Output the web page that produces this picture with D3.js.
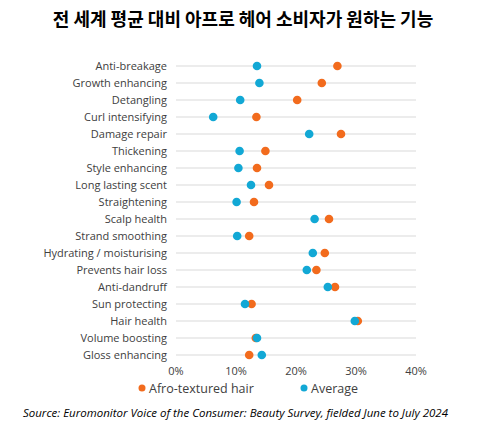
<!DOCTYPE html>
<html><head><meta charset="utf-8">
<script src="https://cdn.jsdelivr.net/npm/d3@7"></script>
<style>body{margin:0;background:#fff;font-family:"Open Sans",sans-serif;}</style>
</head><body><svg id="chart" width="486" height="427"></svg>
<script>
var categories = ["Anti-breakage","Growth enhancing","Detangling","Curl intensifying","Damage repair","Thickening","Style enhancing","Long lasting scent","Straightening","Scalp health","Strand smoothing","Hydrating / moisturising","Prevents hair loss","Anti-dandruff","Sun protecting","Hair health","Volume boosting","Gloss enhancing"];
var afroValues = [26.9,24.3,20.2,13.4,27.5,14.9,13.5,15.5,13.0,25.5,12.2,24.8,23.4,26.5,12.6,30.3,13.3,12.2];
var averageValues = [13.5,13.9,10.7,6.2,22.2,10.6,10.4,12.5,10.1,23.1,10.2,22.8,21.8,25.3,11.5,29.8,13.5,14.3];
var tickValues = [0,10,20,30,40];

var svg = d3.select("#chart");
var x = d3.scaleLinear().domain([0,40]).range([176,416]);
var y = d3.scalePoint().domain(categories).range([66,355]);

svg.append("text").attr("x",243).attr("y",26).attr("text-anchor","middle")
  .attr("font-size",18).attr("font-weight","bold").attr("font-family","Noto Sans CJK KR")
  .text("전 세계 평균 대비 아프로 헤어 소비자가 원하는 기능");

svg.selectAll(".grid").data(categories).enter().append("line")
  .attr("x1",x(0)).attr("x2",x(40))
  .attr("y1",function(d){return y(d);}).attr("y2",function(d){return y(d);})
  .attr("stroke","#d9d9d9");

svg.selectAll(".cat").data(categories).enter().append("text")
  .attr("x",x(0)-9).attr("y",function(d){return y(d)+4;})
  .attr("text-anchor","end").attr("font-size",11).attr("fill","#404040")
  .text(function(d){return d;});

svg.selectAll(".tick").data(tickValues).enter().append("text")
  .attr("x",function(d){return x(d);}).attr("y",375)
  .attr("text-anchor","middle").attr("font-size",11).attr("fill","#404040")
  .text(function(d){return d+"%";});

svg.selectAll(".afro").data(afroValues).enter().append("circle")
  .attr("cx",function(d){return x(d);}).attr("cy",function(d,i){return y(categories[i]);})
  .attr("r",4.3).attr("fill","#F26B1D");
svg.selectAll(".avg").data(averageValues).enter().append("circle")
  .attr("cx",function(d){return x(d);}).attr("cy",function(d,i){return y(categories[i]);})
  .attr("r",4.3).attr("fill","#12A8D5");

var legend = [["Afro-textured hair","#F26B1D",142],["Average","#12A8D5",304]];
legend.forEach(function(l){
  svg.append("circle").attr("cx",l[2]).attr("cy",388).attr("r",3.5).attr("fill",l[1]);
  svg.append("text").attr("x",l[2]+7).attr("y",392.5).attr("font-size",12.5).attr("fill","#404040").text(l[0]);
});

svg.append("text").attr("x",23).attr("y",417).attr("font-size",10).attr("font-style","italic")
  .attr("fill","#000").attr("textLength",425).attr("lengthAdjust","spacingAndGlyphs")
  .text("Source: Euromonitor Voice of the Consumer: Beauty Survey, fielded June to July 2024");
</script></body></html>
